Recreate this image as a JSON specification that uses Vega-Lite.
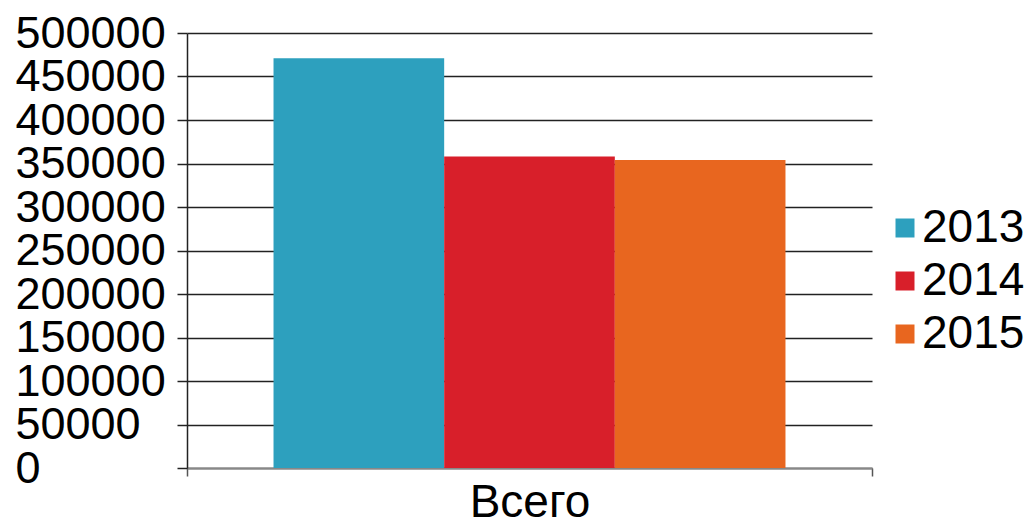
{
  "$schema": "https://vega.github.io/schema/vega-lite/v6.json",
  "width": 685,
  "height": 435,
  "autosize": {"type": "none"},
  "padding": {"left": 187, "top": 33, "right": 160, "bottom": 62},
  "background": "white",
  "config": {
    "font": "Liberation Sans",
    "view": {"stroke": null}
  },
  "data": {
    "values": [
      {"category": "Всего", "year": "2013", "value": 471000},
      {"category": "Всего", "year": "2014", "value": 358000},
      {"category": "Всего", "year": "2015", "value": 354000}
    ]
  },
  "mark": {"type": "bar"},
  "encoding": {
    "x": {
      "field": "category",
      "type": "nominal",
      "scale": {"paddingInner": 0, "paddingOuter": 0},
      "axis": {
        "title": null,
        "labelAngle": 0,
        "labelFontSize": 46,
        "labelColor": "black",
        "labelPadding": 4,
        "tickBand": "extent",
        "tickSize": 8,
        "tickWidth": 1.5,
        "tickColor": "#555",
        "domainColor": "#888",
        "domainWidth": 2,
        "grid": false
      }
    },
    "xOffset": {
      "field": "year",
      "type": "nominal",
      "scale": {"paddingInner": 0, "paddingOuter": 0.507}
    },
    "y": {
      "field": "value",
      "type": "quantitative",
      "scale": {"domain": [0, 500000], "nice": false},
      "axis": {
        "title": null,
        "values": [0, 50000, 100000, 150000, 200000, 250000, 300000, 350000, 400000, 450000, 500000],
        "format": "d",
        "labelFontSize": 45,
        "labelColor": "black",
        "labelAlign": "left",
        "labelBaseline": "middle",
        "labelPadding": 162,
        "labelOverlap": false,
        "tickSize": 10,
        "tickWidth": 1.5,
        "tickColor": "#222",
        "domainColor": "#222",
        "domainWidth": 1.5,
        "grid": true,
        "gridColor": "#222",
        "gridWidth": 1.5
      }
    },
    "color": {
      "field": "year",
      "type": "nominal",
      "scale": {"domain": ["2013", "2014", "2015"], "range": ["#2DA0BE", "#D81F2A", "#E8661F"]},
      "legend": {
        "title": null,
        "orient": "none",
        "legendX": 695,
        "legendY": 172,
        "padding": 0,
        "symbolType": "square",
        "symbolSize": 361,
        "symbolStrokeWidth": 0,
        "labelFontSize": 46,
        "labelColor": "black",
        "labelOffset": -6,
        "rowPadding": 7
      }
    }
  }
}
